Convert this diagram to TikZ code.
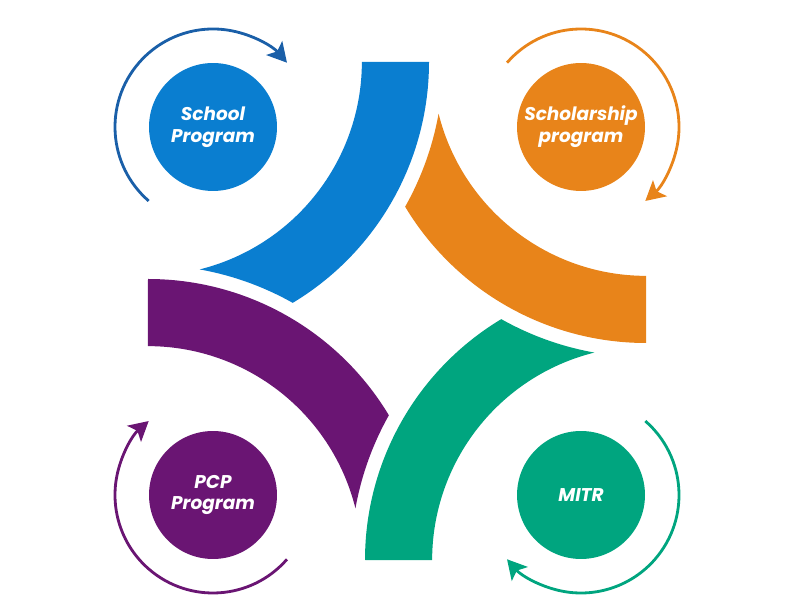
\documentclass[tikz,border=0pt]{standalone}
\usepackage{fontspec}
\setsansfont{Poppins}
\usetikzlibrary{positioning, arrows.meta, calc}

\definecolor{schoolblue}{HTML}{0A7ED0}
\definecolor{loopblue}{HTML}{1A5FA8}
\definecolor{scholarorange}{HTML}{E8841A}
\definecolor{pcppurple}{HTML}{6A1573}
\definecolor{mitrgreen}{HTML}{00A57F}

\begin{document}
\begin{tikzpicture}[
		x=0.02cm, y=0.02cm,
		prog/.style={circle, minimum size=2.56cm, inner sep=0pt, align=center, text=white, font=\sffamily\bfseries\itshape\fontsize{10.5}{12.5}\selectfont},
		cycloop/.style={line width=1.6pt, -{Stealth[length=11pt, width=12pt, inset=2.5pt]}}
		]
		
		\useasboundingbox (0,0) rectangle (800,611);
		
		% ==========================================
		% CENTRES OF THE FOUR BANDS
		% ==========================================
		\coordinate (B) at (148,549);
		\coordinate (O) at (646,549);
		\coordinate (G) at (646,51);
		\coordinate (P) at (148,51);
		
		% ==========================================
		% BANDS
		% ==========================================
		
		% Blue band (cut by purple)
		\fill[schoolblue] ($(B)+(0:281)$) arc[start angle=0, end angle=-59, radius=281]
			arc[start angle=60.6, end angle=79.9, radius=295]
			arc[start angle=-76, end angle=0, radius=214] -- cycle;
		
		% Orange band (cut by blue)
		\fill[scholarorange] ($(O)+(-90:281)$) arc[start angle=-90, end angle=-149, radius=281]
			arc[start angle=-29.4, end angle=-10.1, radius=295]
			arc[start angle=-166, end angle=-90, radius=214] -- cycle;
		
		% Green band (cut by orange)
		\fill[mitrgreen] ($(G)+(180:281)$) arc[start angle=180, end angle=121, radius=281]
			arc[start angle=-119.4, end angle=-100.1, radius=295]
			arc[start angle=104, end angle=180, radius=214] -- cycle;
		
		% Purple band (cut by green)
		\fill[pcppurple] ($(P)+(90:281)$) arc[start angle=90, end angle=31, radius=281]
			arc[start angle=150.6, end angle=169.9, radius=295]
			arc[start angle=14, end angle=90, radius=214] -- cycle;
		
		% ==========================================
		% PROGRAMS
		% ==========================================
		\node[prog, fill=schoolblue] (school) at (213,484) {School\\Program};
		\node[prog, fill=scholarorange] (scholar) at (581,484) {Scholarship\\program};
		\node[prog, fill=pcppurple] (pcp) at (213,116) {PCP\\Program};
		\node[prog, fill=mitrgreen] (mitr) at (581,116) {MITR};
		
		% Loops round the programs
		\draw[cycloop, loopblue] ([shift={(229:98)}]school.center) arc[start angle=229, end angle=41, radius=98];
		\draw[cycloop, scholarorange] ([shift={(139:98)}]scholar.center) arc[start angle=139, end angle=-49, radius=98];
		\draw[cycloop, mitrgreen] ([shift={(49:98)}]mitr.center) arc[start angle=49, end angle=-139, radius=98];
		\draw[cycloop, pcppurple] ([shift={(-41:98)}]pcp.center) arc[start angle=-41, end angle=-229, radius=98];
		
	\end{tikzpicture}
\end{document}
